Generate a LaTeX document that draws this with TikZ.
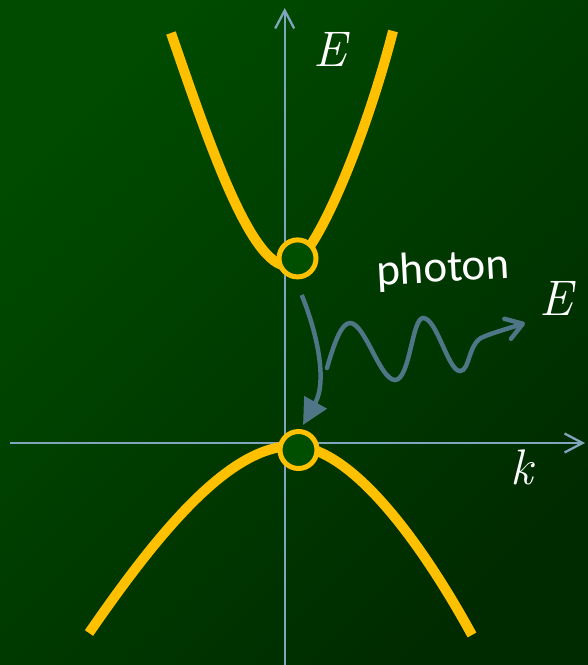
\documentclass[tikz,border=0pt]{standalone}
\usepackage{fontspec}
\newfontfamily\carlito{Carlito}
\usetikzlibrary{arrows.meta}
\definecolor{bgA}{RGB}{0,75,0}
\definecolor{bgB}{RGB}{0,43,0}
\definecolor{axiscol}{RGB}{127,166,188}
\definecolor{photcol}{RGB}{79,118,135}
\definecolor{gold}{RGB}{255,192,0}
\definecolor{dotfill}{RGB}{0,78,0}
\begin{document}
\begin{tikzpicture}[x=1pt,y=-1pt,
  axis/.style={draw=axiscol,line width=2.3pt,-{Straight Barb[length=18pt,width=19pt]}},
  band/.style={draw=gold,line width=10pt},
  state/.style={circle,draw=gold,fill=dotfill,line width=5pt,minimum size=37pt,inner sep=0pt},
  photline/.style={draw=photcol,line width=4.5pt},
  lbl/.style={text=white,inner sep=0pt}]
\shade[top color=bgA,bottom color=bgB,shading angle=45] (0,0) rectangle (588,665);
\useasboundingbox (0,0) rectangle (588,665);
% axes
\coordinate (yb) at (284.7,665);
\coordinate (yt) at (284.7,8);
\coordinate (xl) at (10,443);
\coordinate (xr) at (585,443);
\draw[axis] (yb) -- (yt);
\draw[axis] (xl) -- (xr);
% bands
\coordinate (cbL) at (171,33);
\coordinate (cbV) at (288,266);
\coordinate (cbR) at (393,31);
\draw[band] (cbL) .. controls (208,140) and (250,266) .. (cbV)
  .. controls (313,266) and (365,140) .. (cbR);
\coordinate (vbL) at (89,633);
\coordinate (vbV) at (293,446);
\coordinate (vbR) at (472,635);
\draw[band] (vbL) .. controls (160,530) and (230,446) .. (vbV)
  .. controls (350,446) and (420,540) .. (vbR);
% states
\node[state] (up) at (297.5,258.4) {};
\node[state] (lo) at (298.5,450) {};
% transition
\coordinate (t0) at (301.7,295);
\coordinate (t1) at (303,425);
\draw[photline,-{Triangle[length=26pt,width=25pt]}] (t0) .. controls (316,330) and (328,380) .. (t1);
% photon wave
\coordinate (w0) at (327,368);
\coordinate (w1) at (525,323);
\draw[photline,line cap=round,-{Straight Barb[length=16pt,width=21pt,round]}] (w0) .. controls (335,340) and (342,323) .. (350,323) .. controls (365,323) and (380,380) .. (395,380) .. controls (410,380) and (412,318) .. (423,318) .. controls (437,318) and (448,371) .. (460,371) .. controls (470,371) and (468,343) .. (483,337) .. controls (495,332) and (510,328) .. (w1);
% labels
\node[lbl,font=\fontsize{50}{50}\selectfont\itshape] (E1) at (330,49) {E};
\node[lbl,font=\fontsize{50}{50}\selectfont\itshape] (E2) at (556,298) {E};
\node[lbl,font=\fontsize{50}{50}\selectfont\itshape] (kl) at (522,467) {k};
\node[lbl,font=\carlito\fontsize{45}{45}\selectfont,rotate=3] (ph) at (443,270) {photon};
\end{tikzpicture}
\end{document}
